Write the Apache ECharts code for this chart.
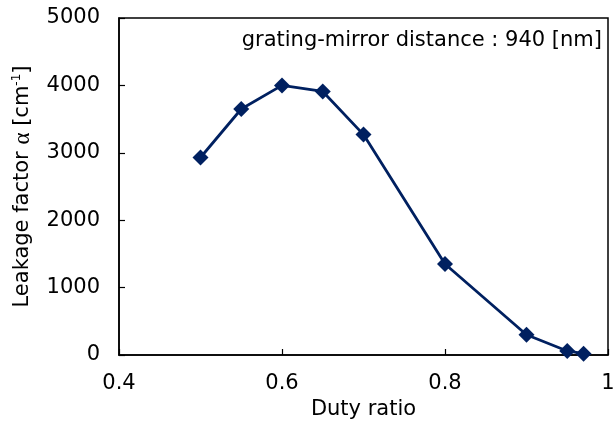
<!DOCTYPE html>
<html>
<head>
<meta charset="utf-8">
<script src="https://cdn.jsdelivr.net/npm/echarts@6/dist/echarts.min.js"></script>
<style>
  html, body { margin: 0; padding: 0; background: #fff; }
  #chart { width: 614px; height: 423px; }
</style>
</head>
<body>
<div id="chart"></div>
<script>
// Duty ratio vs. leakage factor alpha
const dutyRatio = [0.5, 0.55, 0.6, 0.65, 0.7, 0.8, 0.9, 0.95, 0.97];
const leakage = [2930, 3650, 4000, 3910, 3270, 1350, 300, 60, 20];
const xTicks = [0.4, 0.6, 0.8, 1];
const yTicks = [0, 1000, 2000, 3000, 4000, 5000];
const note = 'grating-mirror distance : 940 [nm]';

const navy = '#002060';
const font = '"DejaVu Sans", "Liberation Sans", Arial, sans-serif';
const fs = 21;

const chart = echarts.init(document.getElementById('chart'), null, { renderer: 'canvas' });
chart.setOption({
  animation: false,
  backgroundColor: '#fff',
  grid: { left: 119, right: 6, top: 18, bottom: 68, containLabel: false, outerBoundsMode: 'none' },
  xAxis: {
    type: 'value',
    min: xTicks[0], max: xTicks[xTicks.length - 1], interval: 0.2,
    name: 'Duty ratio',
    nameLocation: 'middle',
    nameGap: 44,
    nameTextStyle: { color: '#000', fontSize: fs, fontFamily: font },
    axisLine: { show: true, onZero: false, lineStyle: { color: '#000', width: 1.5 } },
    axisTick: { show: true, inside: true, length: 6, lineStyle: { color: '#000', width: 1.2 } },
    axisLabel: { color: '#000', fontSize: fs, fontFamily: font, margin: 18,
      formatter: v => String(Math.round(v * 10) / 10) },
    splitLine: { show: false }
  },
  yAxis: {
    type: 'value',
    min: yTicks[0], max: yTicks[yTicks.length - 1], interval: 1000,
    name: 'Leakage factor {a|α} [cm{s|-1}]',
    nameLocation: 'middle',
    nameGap: 84,
    nameTextStyle: {
      color: '#000', fontSize: fs, fontFamily: font,
      rich: {
        a: { color: '#000', fontSize: 23, fontFamily: '"Liberation Serif", "Times New Roman", serif' },
        s: { color: '#000', fontSize: 12, fontFamily: font, verticalAlign: 'top', padding: [0, 0, 12, 0] }
      }
    },
    axisLine: { show: true, onZero: false, lineStyle: { color: '#000', width: 1.5 } },
    axisTick: { show: true, inside: true, length: 6, lineStyle: { color: '#000', width: 1.2 } },
    axisLabel: { color: '#000', fontSize: fs, fontFamily: font, margin: 19,
      formatter: v => String(v) },
    splitLine: { show: false }
  },
  graphic: [
    {
      type: 'rect',
      shape: { x: 119, y: 18, width: 489, height: 337 },
      style: { fill: 'none', stroke: '#000', lineWidth: 1.5 },
      silent: true, z: 0
    },
    {
      type: 'text',
      right: 12, top: 30,
      style: { text: note, fill: '#000', fontSize: fs, fontFamily: font }
    }
  ],
  series: [{
    type: 'line',
    data: dutyRatio.map((d, i) => [d, leakage[i]]),
    symbol: 'diamond',
    symbolSize: 16,
    lineStyle: { color: navy, width: 2.8 },
    itemStyle: { color: navy },
    clip: false
  }]
});
</script>
</body>
</html>
